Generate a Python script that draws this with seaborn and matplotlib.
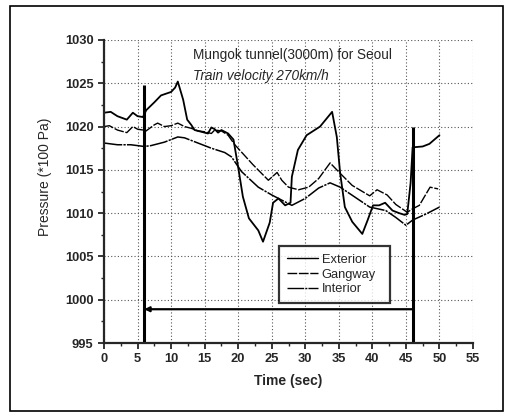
import matplotlib
matplotlib.use('Agg')
import matplotlib.pyplot as plt
import seaborn as sns
import pandas as pd
from matplotlib.patches import Rectangle

# pressure readings (*100 Pa)
ext_t = [0, 1, 2, 3.4, 4.3, 5, 5.8, 6.3, 7.5, 8.5, 10, 10.6, 11, 11.8, 12.4, 13, 13.5, 14.5, 15.5,
         16, 16.5, 17, 17.5, 18.5, 19.3, 20, 20.7, 21.6, 23, 23.7, 24.7, 25.2, 26, 27, 27.8, 28, 28.9,
         30.2, 32.2, 34, 34.7, 35.2, 35.9, 37, 38.5, 39.3, 40.1, 41, 41.9, 43, 44, 44.8, 45.2, 45.7, 46,
         47.5, 48.5, 50]
ext_p = [1021.6, 1021.7, 1021.2, 1020.8, 1021.6, 1021.2, 1021.1, 1021.9, 1022.8, 1023.6, 1024.0, 1024.5,
         1025.2, 1023.1, 1020.8, 1020.2, 1019.6, 1019.4, 1019.2, 1019.9, 1019.7, 1019.3, 1019.6, 1019.2,
         1018.5, 1015.3, 1011.9, 1009.4, 1008.0, 1006.7, 1008.9, 1011.2, 1011.7, 1010.9, 1011.2, 1014.2,
         1017.3, 1019.0, 1020.0, 1021.7, 1018.8, 1014.6, 1010.7, 1009.0, 1007.6, 1009.2, 1010.9, 1010.9,
         1011.2, 1010.3, 1010.0, 1009.8, 1009.9, 1013.5, 1017.6, 1017.7, 1018.0, 1019.0]

gw_t = [0, 0.8, 2, 3.4, 4.3, 5, 5.8, 6.1, 7.5, 8, 9, 10, 11, 12, 13, 14, 15, 16, 16.5, 17.5, 18.5, 19.5,
        22.2, 24.5, 25.8, 26.5, 27.5, 29, 30.5, 32, 33.7, 35.2, 37, 39.6, 40.7, 42.2, 43.5, 45.2, 46, 47,
        48.6, 49.8]
gw_p = [1020.0, 1020.1, 1019.6, 1019.3, 1020.0, 1019.7, 1019.6, 1019.4, 1020.2, 1020.4, 1020.0, 1020.1,
        1020.4, 1020.0, 1019.8, 1019.5, 1019.4, 1019.2, 1019.6, 1019.5, 1019.0, 1017.9, 1015.6, 1013.8,
        1014.7, 1013.8, 1013.0, 1012.7, 1013.0, 1014.0, 1015.8, 1014.6, 1013.2, 1012.0, 1012.7, 1012.1,
        1011.0, 1010.1, 1010.5, 1010.9, 1013.0, 1012.8]

in_t = [0, 2, 4, 6, 7, 9, 11, 12, 14, 16, 18, 19, 20.5, 23, 25, 27, 28, 30, 32, 33.7, 35.2, 37.5, 39.6,
        42, 43.5, 45, 46, 48, 50]
in_p = [1018.1, 1017.9, 1017.9, 1017.7, 1017.8, 1018.2, 1018.8, 1018.7, 1018.1, 1017.5, 1017.0, 1016.5,
        1014.8, 1013.0, 1012.1, 1011.3, 1010.9, 1011.7, 1012.9, 1013.5, 1013.0, 1011.8, 1010.7, 1010.3,
        1009.5, 1008.6, 1009.2, 1009.9, 1010.7]

# tunnel entry / exit markers
t_in, t_out = 6, 46
mark_in_top, mark_out_top = 1024.8, 1020.0
span_level = 998.9

sns.set_style('ticks')
plt.rcParams['font.family'] = ['Liberation Sans', 'DejaVu Sans']

fig = plt.figure(figsize=(5.05, 4.17), dpi=100)
ax = fig.add_axes([104 / 505, 74 / 417, 369 / 505, 303 / 417])

df_ext = pd.DataFrame({'t': ext_t, 'p': ext_p})
df_gw = pd.DataFrame({'t': gw_t, 'p': gw_p})
df_in = pd.DataFrame({'t': in_t, 'p': in_p})

sns.lineplot(data=df_ext, x='t', y='p', ax=ax, color='black', lw=1.3, label='Exterior')
sns.lineplot(data=df_gw, x='t', y='p', ax=ax, color='black', lw=1.0, label='Gangway',
             linestyle=(0, (7, 1.2)))
sns.lineplot(data=df_in, x='t', y='p', ax=ax, color='black', lw=1.1, label='Interior',
             linestyle=(0, (12, 0.8, 1.5, 0.8)))

ax.vlines([t_in, t_out], 995, [mark_in_top, mark_out_top], color='black', lw=2.2)
ax.annotate('', xy=(t_in, span_level), xytext=(t_out, span_level),
            arrowprops=dict(arrowstyle='-|>', color='black', lw=1.6, mutation_scale=7,
                            shrinkA=0, shrinkB=0))

ax.set_xlim(0, 55)
ax.set_ylim(995, 1030)
ax.set_xticks(range(0, 56, 5))
ax.set_yticks(range(995, 1031, 5))
ax.set_xticks([x + 2.5 for x in range(0, 55, 5)], minor=True)
ax.set_yticks([y + 2.5 for y in range(995, 1030, 5)], minor=True)
ax.grid(True, which='major', color='#555555', linestyle=(0, (1, 2)), lw=0.8)
ax.tick_params(which='major', length=4, width=1.3, labelsize=9.3)
ax.tick_params(which='minor', length=2.5, width=1.0)
for lbl in ax.get_xticklabels() + ax.get_yticklabels():
    lbl.set_fontweight('bold')

sns.despine(ax=ax)
ax.spines['left'].set_linewidth(1.6)
ax.spines['bottom'].set_linewidth(1.6)

ax.set_xlabel('Time (sec)', fontsize=10, fontweight='bold', labelpad=6)
ax.set_ylabel('Pressure (*100 Pa)', fontsize=10)
ax.yaxis.set_label_coords(-0.14, 0.55)

ax.text(0.24, 0.975, 'Mungok tunnel(3000m) for Seoul', transform=ax.transAxes,
        fontsize=9.8, va='top')
ax.text(0.24, 0.905, 'Train velocity 270km/h', transform=ax.transAxes,
        fontsize=9.8, va='top', style='italic')

leg = ax.legend(loc='lower left', bbox_to_anchor=(0.474, 0.132, 0.30, 0.19), mode='expand',
                borderaxespad=0, fontsize=9.3, frameon=True, fancybox=False, handlelength=2.4,
                handletextpad=0.3, borderpad=0.6, labelspacing=0.2)
leg.get_frame().set_edgecolor('black')
leg.get_frame().set_linewidth(1.6)
for line in leg.get_lines():
    line.set_linewidth(1.0)

fig.patches.append(Rectangle((10 / 505, 6 / 417), 493 / 505, 405 / 417, transform=fig.transFigure,
                             fill=False, edgecolor='black', lw=1.2))

fig.savefig('out.png', dpi=100)
